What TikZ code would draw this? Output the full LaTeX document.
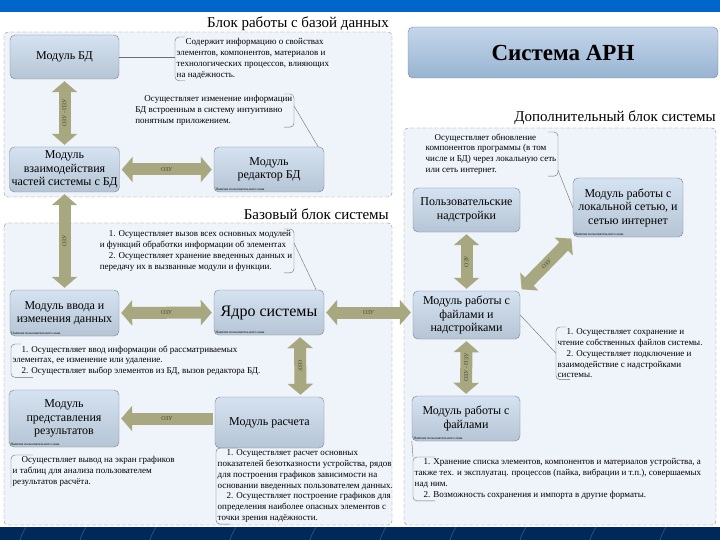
\documentclass[tikz,border=0pt]{standalone}
\usepackage{fontspec}
\setmainfont{Liberation Serif}
\usetikzlibrary{arrows.meta}

\definecolor{topband}{RGB}{0,102,204}
\definecolor{botband}{RGB}{0,40,88}
\definecolor{botline}{RGB}{40,80,130}
\definecolor{blkfill}{RGB}{239,243,250}
\definecolor{blkline}{RGB}{140,140,140}
\definecolor{boxtop}{RGB}{212,226,241}
\definecolor{boxbot}{RGB}{182,197,213}
\definecolor{boxline}{RGB}{120,130,140}
\definecolor{titletop}{RGB}{196,214,234}
\definecolor{titlebot}{RGB}{152,180,210}
\definecolor{busfill}{RGB}{168,168,128}
\definecolor{bustext}{RGB}{70,70,50}
\definecolor{brkline}{RGB}{110,110,110}

\newcommand\modfont{\fontsize{12}{13.5}\selectfont}
\newcommand\corefont{\fontsize{16}{18}\selectfont}
\newcommand\notefont{\fontsize{9}{10.8}\selectfont}
\newcommand\busfont{\fontsize{6}{7}\selectfont}
\newcommand\winfont{\fontsize{3.5}{4}\selectfont}
\newcommand\blkfont{\fontsize{15}{17}\selectfont}

\tikzset{
  module/.style={draw=boxline, rounded corners=5pt, top color=boxtop, bottom color=boxbot,
    align=center, inner sep=2pt, font=\modfont},
  win/.style={label={[anchor=south west, inner sep=1.5pt, font=\winfont]south west:Наличие пользовательского окна}},
  block/.style={draw=blkline, fill=blkfill, dash pattern=on 4pt off 2pt, rounded corners=4pt},
  note/.style={align=left, inner sep=1.5pt, font=\notefont},
  brk/.style={draw=brkline, rounded corners=4pt, line width=0.4pt},
  bus/.style={draw=busfill, line width=12pt, shorten <=2pt, shorten >=2pt,
    {Triangle[width=25pt,length=11pt]}-{Triangle[width=25pt,length=11pt]}},
  busone/.style={draw=busfill, line width=12pt, shorten <=2pt, shorten >=2pt,
    -{Triangle[width=25pt,length=11pt]}},
  lbl/.style={midway, sloped, font=\busfont, text=bustext, inner sep=0pt}
}

\begin{document}
\begin{tikzpicture}[x=1pt, y=-1pt]

\useasboundingbox (0,0) rectangle (720,540);

% Bands
\fill[topband] (0,0) rectangle (720,12);
\fill[botband] (0,527) rectangle (720,540);
\foreach \x in {20,80,150,230,310,380,450,520,590,660}
  \draw[botline, line width=0.8pt] (\x,540) .. controls (\x+2,534) .. (\x+6,527);

% Blocks
\draw[block] (4,32) rectangle (392,197);
\draw[block] (4,223) rectangle (392,525);
\draw[block] (404,128) rectangle (716,525);

\node[font=\blkfont, anchor=base east, inner sep=0pt] (tdb) at (389,28) {Блок работы с базой данных};
\node[font=\blkfont, anchor=base east, inner sep=0pt] (tbase) at (389,219) {Базовый блок системы};
\node[font=\blkfont, anchor=base east, inner sep=0pt] (tadd) at (716,122) {Дополнительный блок системы};

% Title
\node[draw=boxline, rounded corners=5pt, top color=titletop, bottom color=titlebot,
  minimum width=310pt, minimum height=51pt, font=\fontsize{23}{26}\selectfont\bfseries]
  (title) at (563,52.5) {Система АРН};

% Modules
\node[module, minimum width=109pt, minimum height=44pt] (bd) at (64.5,57) {Модуль БД};
\node[module, minimum width=109pt, minimum height=45pt] (vz) at (64.5,169.5) {Модуль\\взаимодействия\\частей системы с БД};
\node[module, win, minimum width=110pt, minimum height=45pt] (red) at (269,169.5) {Модуль\\редактор БД};
\node[module, win, minimum width=109pt, minimum height=46pt] (vv) at (64.5,313) {Модуль ввода и\\изменения данных};
\node[module, win, minimum width=110pt, minimum height=45pt, font=\corefont] (core) at (269,312.5) {Ядро системы};
\node[module, win, minimum width=110pt, minimum height=57pt] (pr) at (64,418.5) {Модуль\\представления\\результатов};
\node[module, minimum width=109pt, minimum height=51pt] (rs) at (269.5,422.5) {Модуль расчета};
\node[module, minimum width=107pt, minimum height=44pt] (nad) at (466.5,210) {Пользовательские\\надстройки};
\node[module, win, minimum width=110pt, minimum height=59pt] (net) at (628,207.5) {Модуль работы с\\локальной сетью, и\\сетью интернет};
\node[module, minimum width=107pt, minimum height=48pt] (fn) at (466.5,315) {Модуль работы с\\файлами и\\надстройками};
\node[module, win, minimum width=108pt, minimum height=45pt] (fl) at (466,418.5) {Модуль работы с\\файлами};

% Buses
\draw[bus] (vz.north) -- node[lbl]{ОЗУ - ПЗУ} (bd.south);
\draw[bus] (vz.east) -- node[lbl]{ОЗУ} (red.west);
\draw[bus] (vv.north) -- node[lbl]{ОЗУ} (vz.south);
\draw[bus] (vv.east) -- node[lbl]{ОЗУ} (core.west);
\draw[bus] (core.east) -- node[lbl]{ОЗУ} (core.east -| fn.west);
\draw[bus] ([xshift=31pt]rs.north) -- node[lbl]{ОЗУ} ([xshift=31pt]core.south);
\draw[busone] (pr.east -| rs.west) -- node[lbl]{ОЗУ} (pr.east);
\draw[bus] (fn.north) -- node[lbl]{ОЗУ} (nad.south);
\draw[bus] (fn.north east) -- node[lbl]{ОЗУ} (net.south west);
\draw[bus] (fl.north) -- node[lbl]{ОЗУ - ПЗУ} (fn.south);

% Notes
\node[note, anchor=north west] (n1) at (175,37) {\quad Содержит информацию о свойствах\\элементов, компонентов, материалов и\\технологических процессов, влияющих\\на надёжность.};
\draw[brk] ([xshift=10pt]n1.north west) -- (n1.north west) -- (n1.south west) -- ([xshift=10pt]n1.south west);
\draw[brkline, line width=0.4pt] (bd.east) -- (bd.east -| n1.west);

\node[note, anchor=north east] (n2) at (294,94) {\quad Осуществляет изменение информации\\БД встроенным в систему интуитивно\\понятным приложением.};
\draw[brk] ([xshift=-10pt]n2.north east) -- (n2.north east) -- (n2.south east) -- ([xshift=-10pt]n2.south east);
\draw[brkline, line width=0.4pt] ([yshift=-12pt]n2.north east) -- ([xshift=-6pt]red.north east);

\node[note, anchor=north east] (n3) at (294,229) {\quad 1. Осуществляет вызов всех основных модулей\\и функций обработки информации об элементах\\\quad 2. Осуществляет хранение введенных данных и\\передачу их в вызванные модули и функции.};
\draw[brk] ([xshift=-10pt]n3.north east) -- (n3.north east) -- (n3.south east) -- ([xshift=-10pt]n3.south east);
\draw[brkline, line width=0.4pt] ([yshift=-14pt]n3.north east) -- ([xshift=-8pt]core.north east);

\node[note, anchor=north west] (n4) at (11,344) {\quad 1. Осуществляет ввод информации об рассматриваемых\\элементах, ее изменение или удаление.\\\quad 2. Осуществляет выбор элементов из БД, вызов редактора БД.};
\draw[brk] ([xshift=10pt]n4.north west) -- (n4.north west) -- (n4.south west) -- ([xshift=22pt]n4.south west);

\node[note, anchor=north west] (n5) at (11,455) {\quad Осуществляет вывод на экран графиков\\и таблиц для анализа пользователем\\результатов расчёта.};
\draw[brk] ([xshift=22pt]n5.north west) -- (n5.north west) -- (n5.south west);

\node[note, anchor=north west] (n6) at (216,448) {\quad 1. Осуществляет расчет основных\\показателей безотказности устройства, рядов\\для построения графиков зависимости на\\основании введенных пользователем данных.\\\quad 2. Осуществляет построение графиков для\\определения наиболее опасных элементов с\\точки зрения надёжности.};
\draw[brk] ([xshift=22pt]n6.north west) -- (n6.north west) -- (n6.south west) -- ([xshift=14pt]n6.south west);

\node[note, anchor=north east] (n7) at (558,132) {\quad Осуществляет обновление\\компонентов программы (в том\\числе и БД) через локальную сеть\\или сеть интернет.};
\draw[brk] ([xshift=-10pt]n7.north east) -- (n7.north east) -- (n7.south east) -- ([xshift=-10pt]n7.south east);
\draw[brkline, line width=0.4pt] ([yshift=6pt]n7.south east) -- (net.west);

\node[note, anchor=north west] (n8) at (556,327) {\quad 1. Осуществляет сохранение и\\чтение собственных файлов системы.\\\quad 2. Осуществляет подключение и\\взаимодействие с надстройками\\системы.};
\draw[brk] ([xshift=10pt]n8.north west) -- (n8.north west) -- (n8.south west) -- ([xshift=14pt]n8.south west);
\draw[brkline, line width=0.4pt] (fn.east) -- (n8.west);

\node[note, anchor=north west] (n9) at (413,457) {\quad 1. Хранение списка элементов, компонентов и материалов устройства, а\\также тех. и эксплуатац. процессов (пайка, вибрации и т.п.), совершаемых\\над ним.\\\quad 2. Возможность сохранения и импорта в другие форматы.};
\draw[brk] ([xshift=22pt]n9.north west) -- (n9.north west) -- (n9.south west) -- ([xshift=22pt]n9.south west);
\draw[brkline, line width=0.4pt] (fl.south west) -- (n9.north west);

\end{tikzpicture}
\end{document}
